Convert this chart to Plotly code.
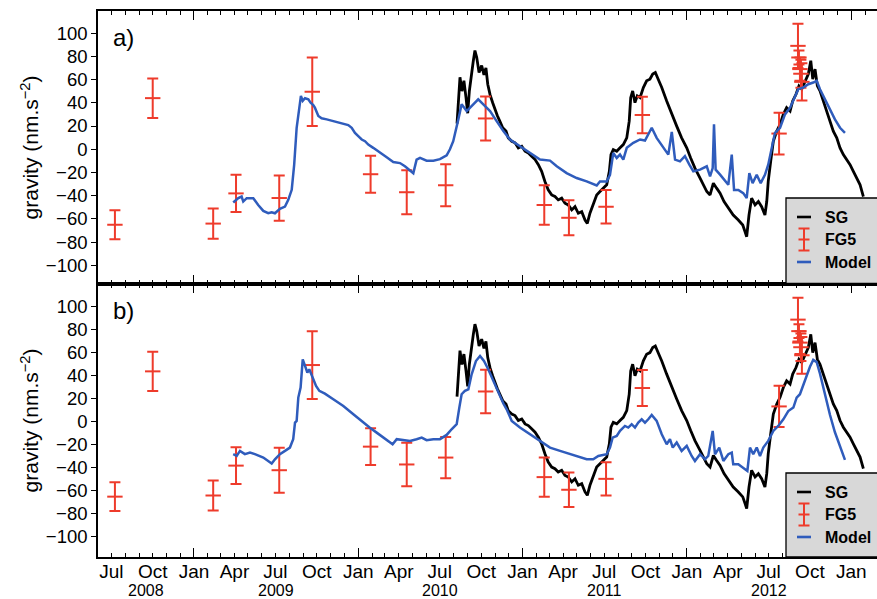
import plotly.graph_objects as go
from datetime import date

# ---------------- data (time in decimal years, gravity in nm/s^2) ----------------
fg5_t = [2008.519, 2008.749, 2009.117, 2009.256, 2009.519, 2009.720, 2010.075, 2010.295,
         2010.532, 2010.775, 2011.132, 2011.282, 2011.508, 2011.729, 2012.561,
         2012.676, 2012.682, 2012.688, 2012.694, 2012.700]
fg5_g = [-65, 44, -64, -38, -42, 49.5, -21.5, -37, -31, 26.5, -48, -59, -49.5, 29.5, 13.5,
         89, 79, 69, 65, 58]
fg5_err = [12.5, 17, 13, 16, 19.5, 29.5, 16, 19, 18, 19, 17, 15, 14.5, 15.7, 18,
           19, 6, 10, 12, 16]

sg_t = [2010.601, 2010.610, 2010.619, 2010.631, 2010.643, 2010.656, 2010.666, 2010.676,
        2010.686, 2010.700, 2010.710, 2010.721, 2010.735, 2010.751, 2010.765, 2010.777,
        2010.788, 2010.802, 2010.818, 2010.832, 2010.846, 2010.862, 2010.879, 2010.899,
        2010.913, 2010.934, 2010.954, 2010.974, 2010.995, 2011.015, 2011.035, 2011.055,
        2011.076, 2011.096, 2011.116, 2011.136, 2011.156, 2011.177, 2011.197, 2011.217,
        2011.238, 2011.258, 2011.278, 2011.299, 2011.319, 2011.339, 2011.360, 2011.380,
        2011.394, 2011.410, 2011.430, 2011.451, 2011.471, 2011.491, 2011.512, 2011.528,
        2011.538, 2011.552, 2011.573, 2011.593, 2011.613, 2011.634, 2011.649, 2011.658,
        2011.670, 2011.684, 2011.698, 2011.715, 2011.735, 2011.755, 2011.775, 2011.792,
        2011.808, 2011.826, 2011.847, 2011.877, 2011.908, 2011.938, 2011.968, 2011.999,
        2012.023, 2012.049, 2012.080, 2012.100, 2012.121, 2012.141, 2012.161, 2012.181,
        2012.202, 2012.226, 2012.252, 2012.282, 2012.313, 2012.340, 2012.354, 2012.364,
        2012.378, 2012.394, 2012.415, 2012.435, 2012.455, 2012.475, 2012.486, 2012.495,
        2012.510, 2012.526, 2012.547, 2012.567, 2012.587, 2012.607, 2012.628, 2012.644,
        2012.664, 2012.682, 2012.699, 2012.719, 2012.739, 2012.754, 2012.766, 2012.780,
        2012.794, 2012.810, 2012.830, 2012.851, 2012.871, 2012.891, 2012.912, 2012.932,
        2012.952, 2012.973, 2012.993, 2013.013, 2013.034, 2013.054, 2013.074]
sg_g = [22, 45, 62, 50, 59, 44, 31, 50,
        62, 76, 85, 79, 66, 72, 64, 70,
        56, 47, 40, 34, 29, 24, 18.5, 15.6,
        9.8, 6.9, 5.5, 1.2, 2.6, -1.7, -3.2, -6.0,
        -8.9, -13.3, -19, -27.7, -34.9, -39.3, -40.7, -43.6,
        -42.1, -46.5, -47.9, -52.2, -49.4, -55.1, -53.7, -60.9,
        -63.8, -55.1, -47.9, -39.3, -36.4, -33.5, -30.6, -19,
        -4.6, -0.3, -1.7, 1.2, 4.0, 9.8, 24.2, 44.4,
        50.2, 40.1, 45.9, 44.4, 53.1, 58.9, 60.3, 64.7,
        66.1, 60, 53.1, 41.6, 30.0, 19.9, 9.8, 1.2,
        -7.5, -16.2, -24.8, -30.6, -36.4, -39.3, -29.2, -33.5,
        -37.8, -45.0, -50.8, -56.6, -60.9, -65.2, -71, -75.3,
        -56.6, -42.1, -47.9, -45.0, -49.4, -56.6, -45, -27.7,
        -10.4, 6.9, 15.6, 21.4, 30, 35.8, 32.9, 41.6,
        47.3, 54.5, 51.7, 58.9, 64.7, 76.2, 60.3, 69.0,
        54.5, 50.2, 41.6, 32.9, 24.2, 15.6, 9.8, 1.2,
        -4.6, -8.9, -13.3, -19.0, -24.8, -30.6, -40.7]

model_a_t = [2009.239, 2009.270, 2009.290, 2009.300, 2009.321, 2009.361, 2009.391, 2009.422,
             2009.452, 2009.473, 2009.493, 2009.523, 2009.554, 2009.574, 2009.595, 2009.610,
             2009.625, 2009.641, 2009.651, 2009.662, 2009.676, 2009.696, 2009.710, 2009.726,
             2009.736, 2009.757, 2009.777, 2009.808, 2009.848, 2009.889, 2009.939, 2009.960,
             2009.980, 2010.000, 2010.021, 2010.041, 2010.061, 2010.091, 2010.132, 2010.173,
             2010.213, 2010.254, 2010.284, 2010.315, 2010.335, 2010.355, 2010.376, 2010.416,
             2010.457, 2010.497, 2010.538, 2010.558, 2010.578, 2010.609, 2010.629, 2010.660,
             2010.690, 2010.730, 2010.761, 2010.802, 2010.842, 2010.883, 2010.923, 2010.984,
             2011.045, 2011.106, 2011.167, 2011.208, 2011.268, 2011.329, 2011.390, 2011.451,
             2011.471, 2011.512, 2011.532, 2011.552, 2011.573, 2011.593, 2011.613, 2011.634,
             2011.674, 2011.715, 2011.745, 2011.786, 2011.816, 2011.856, 2011.887, 2011.908,
             2011.928, 2011.958, 2011.988, 2012.015, 2012.039, 2012.080, 2012.121, 2012.141,
             2012.157, 2012.165, 2012.175, 2012.202, 2012.232, 2012.252, 2012.273, 2012.287,
             2012.313, 2012.343, 2012.364, 2012.380, 2012.400, 2012.425, 2012.449, 2012.475,
             2012.495, 2012.516, 2012.536, 2012.567, 2012.597, 2012.628, 2012.658, 2012.678,
             2012.708, 2012.739, 2012.769, 2012.790, 2012.810, 2012.841, 2012.871, 2012.901,
             2012.932, 2012.962]
model_a_g = [-45.9, -42.1, -40.7, -45.0, -42.1, -42.1, -48.0, -53.1,
             -55.1, -54.2, -55.1, -51.3, -49.4, -43.6, -34.9, -13.2,
             18.5, 35.8, 45.9, 41.6, 43.9, 43.0, 40.1, 38.1,
             35.8, 28.6, 26.6, 25.7, 24.2, 22.8, 20.8, 18.5,
             14.1, 11.3, 8.4, 6.9, 4.0, 1.2, -3.2, -6.9,
             -11.0, -11.9, -14.7, -18.5, -20.6, -9.0, -7.5, -9.8,
             -9.8, -8.5, -5.2, 0, 6.9, 25.7, 38.7, 32.9,
             37.2, 43.0, 38.7, 32.9, 24.2, 15.6, 8.4, 2.6,
             -3.2, -8.9, -9.8, -14.7, -20.5, -24.8, -27.7, -31.2,
             -27.7, -27.7, -22.0, -3.2, -7.5, -4.6, -8.9, 1.2,
             5.5, 8.4, 7.5, 18.5, 9.8, 1.2, -4.6, 15,
             -8.9, -10.4, -6.0, -13.2, -19.0, -17.6, -14.7, -23.3,
             -16.2, 21.4, -17.6, -21.9, -27.7, -30.6, -4.6, -35.0,
             -35.0, -37.8, -42.1, -20.5, -29.2, -22.0, -29.2, -22.0,
             -13.3, 1.2, 14.1, 18.5, 30.0, 35.8, 45.9, 51.7,
             53.1, 56.0, 57.4, 58.9, 51.7, 43.0, 34.3, 25.7,
             18.5, 14.1]

model_b_t = [2009.239, 2009.260, 2009.280, 2009.310, 2009.341, 2009.371, 2009.422, 2009.452,
             2009.473, 2009.493, 2009.523, 2009.554, 2009.584, 2009.604, 2009.615, 2009.625,
             2009.635, 2009.649, 2009.662, 2009.676, 2009.690, 2009.702, 2009.722, 2009.743,
             2009.763, 2009.797, 2009.848, 2009.909, 2009.970, 2010.030, 2010.071, 2010.112,
             2010.152, 2010.183, 2010.209, 2010.234, 2010.274, 2010.315, 2010.355, 2010.386,
             2010.416, 2010.457, 2010.497, 2010.538, 2010.568, 2010.599, 2010.615, 2010.629,
             2010.649, 2010.670, 2010.690, 2010.716, 2010.741, 2010.765, 2010.791, 2010.822,
             2010.852, 2010.883, 2010.903, 2010.934, 2010.984, 2011.045, 2011.106, 2011.167,
             2011.228, 2011.289, 2011.349, 2011.390, 2011.430, 2011.461, 2011.512, 2011.532,
             2011.548, 2011.573, 2011.593, 2011.623, 2011.643, 2011.664, 2011.684, 2011.704,
             2011.725, 2011.745, 2011.765, 2011.786, 2011.816, 2011.847, 2011.877, 2011.897,
             2011.914, 2011.938, 2011.968, 2011.999, 2012.029, 2012.049, 2012.080, 2012.110,
             2012.130, 2012.157, 2012.171, 2012.197, 2012.222, 2012.252, 2012.273, 2012.282,
             2012.313, 2012.343, 2012.368, 2012.384, 2012.404, 2012.425, 2012.445, 2012.465,
             2012.495, 2012.526, 2012.556, 2012.587, 2012.617, 2012.648, 2012.668, 2012.688,
             2012.708, 2012.729, 2012.749, 2012.769, 2012.790, 2012.810, 2012.830, 2012.851,
             2012.871, 2012.901, 2012.932, 2012.962]
model_b_g = [-28.1, -29.5, -25.2, -28.0, -26.7, -28.0, -31.0, -33.9,
             -36.2, -32.5, -28.0, -25.2, -22.3, -15.0, -0.6, 0.9,
             21.2, 29.9, 54.5, 48.7, 43.0, 45.8, 38.6, 31.3,
             27.0, 24.6, 19.7, 13.9, 6.7, -0.6, -5.0, -9.3,
             -13.6, -16.5, -19.4, -15.0, -15.9, -16.5, -15.0, -13.6,
             -15.9, -15.0, -15.0, -11.3, -6.4, -2.0, 12.5, 24.1,
             27.0, 28.4, 41.4, 53.0, 57.4, 53.0, 45.8, 35.7,
             27.0, 16, 11.0, 0.9, -4.9, -10.7, -16.5, -22.3,
             -25.2, -28.1, -31.0, -32.5, -32.5, -29.6, -28.1, -22.3,
             -13.6, -12.2, -7.8, -3.5, -4.9, -2.0, -4.9, -0.6,
             2.3, -0.6, 2.3, 6.1, 0.9, -10.7, -19.4, -15.0,
             -22.3, -17.9, -25.2, -20.9, -29.6, -34.0, -28.1, -32.5,
             -29.6, -7.8, -28.1, -22.3, -33.9, -28.1, -26.7, -36.8,
             -36.8, -39.7, -42.6, -22.3, -28.1, -22.3, -29.6, -22.3,
             -16.5, -7.8, -3.5, 2.3, 9.5, 12.5, 21.2, 24.1,
             32, 40, 48, 54, 52, 42, 30, 16,
             6, -9, -22, -33]

gravity_ticks = [-100, -80, -60, -40, -20, 0, 20, 40, 60, 80, 100]
month_labels = ["Jul", "Oct", "Jan", "Apr", "Jul", "Oct", "Jan", "Apr", "Jul", "Oct",
                "Jan", "Apr", "Jul", "Oct", "Jan", "Apr", "Jul", "Oct", "Jan"]
year_labels = ["2008", "2009", "2010", "2011", "2012"]
legend_names = ["SG", "FG5", "Model"]

# ---------------- styling / layout ----------------
W, H = 877, 599
ML, MR, MT, MB = 98, 0, 11, 42
X_MIN, X_MAX = 2008.416, 2013.157
RED = "#ee3b2b"
BLUE = "#2f5cbc"
BLACK = "#000000"
FONT = "Liberation Sans, Arial, Helvetica, sans-serif"


def decyear(y, m):
    d0 = date(y, 1, 1)
    d1 = date(y + 1, 1, 1)
    return y + (date(y, m, 1) - d0).days / (d1 - d0).days


months = []
y, m = 2008, 6
while (y, m) <= (2013, 2):
    months.append((y, m))
    m += 1
    if m > 12:
        m, y = 1, y + 1
quarter_pos = [decyear(a, b) for a, b in months
               if b in (1, 4, 7, 10) and (2008, 7) <= (a, b) <= (2013, 1)]
month_pos = [decyear(a, b) for a, b in months]
jan_pos = [decyear(a, 1) for a in range(2009, 2014)]

PW = W - ML - MR
PH = H - MT - MB


def px(x):
    return (x - ML) / PW


def py(y):
    return (H - MB - y) / PH


fig = go.Figure()

for xa, ya, mt, mg in [("x2", "y2", model_a_t, model_a_g), ("x", "y", model_b_t, model_b_g)]:
    fig.add_trace(go.Scatter(x=sg_t, y=sg_g, mode="lines", xaxis=xa, yaxis=ya,
                             line=dict(color=BLACK, width=2.8), showlegend=False, name="SG"))
    fig.add_trace(go.Scatter(x=fg5_t, y=fg5_g, mode="markers", xaxis=xa, yaxis=ya,
                             marker=dict(symbol="line-ew", size=11, color=RED,
                                         line=dict(color=RED, width=2)),
                             error_y=dict(type="data", array=fg5_err, visible=True,
                                          color=RED, thickness=2, width=5.5),
                             showlegend=False, name="FG5"))
    fig.add_trace(go.Scatter(x=mt, y=mg, mode="lines", xaxis=xa, yaxis=ya,
                             line=dict(color=BLUE, width=2.5), showlegend=False, name="Model"))

# empty traces to instantiate the overlay axes for long January ticks
fig.add_trace(go.Scatter(x=[], y=[], xaxis="x3", yaxis="y", showlegend=False))
fig.add_trace(go.Scatter(x=[], y=[], xaxis="x4", yaxis="y2", showlegend=False))

split = 0.5
xcommon = dict(range=[X_MIN, X_MAX], showgrid=False, zeroline=False,
               tickmode="array", tickvals=quarter_pos, ticktext=month_labels,
               ticks="inside", ticklen=4, tickwidth=1.2, tickcolor=BLACK,
               showline=True, linecolor=BLACK, linewidth=1.6, mirror="ticks",
               minor=dict(tickmode="array", tickvals=month_pos, ticks="inside",
                          ticklen=4, tickwidth=1.2, tickcolor=BLACK),
               ticklabelstandoff=-4,
               tickfont=dict(family=FONT, size=19, color=BLACK), fixedrange=True)
xlong = dict(range=[X_MIN, X_MAX], showgrid=False, zeroline=False, tickmode="array",
             tickvals=jan_pos, ticks="inside", ticklen=9, tickwidth=1.4, tickcolor=BLACK,
             showline=False, mirror="ticks", showticklabels=False, fixedrange=True)
ycommon = dict(showgrid=False, zeroline=False, tickmode="array", tickvals=gravity_ticks,
               ticks="outside", ticklen=5, tickwidth=1.2, tickcolor=BLACK,
               showline=True, linecolor=BLACK, linewidth=1.6, mirror=False,
               tickfont=dict(family=FONT, size=18.5, color=BLACK),
               title=dict(text="gravity (nm.s<sup>\u22122</sup>)",
                          font=dict(family=FONT, size=21, color=BLACK), standoff=1),
               fixedrange=True)

fig.update_layout(
    width=W, height=H,
    margin=dict(l=ML, r=MR, t=MT, b=MB, pad=0),
    paper_bgcolor="white", plot_bgcolor="white",
    showlegend=False,
    xaxis=dict(domain=[0, 1], anchor="y", **xcommon),
    xaxis2=dict(domain=[0, 1], anchor="y2", matches="x", showticklabels=False,
                **{k: v for k, v in xcommon.items() if k not in ("range",)}),
    xaxis3=dict(overlaying="x", anchor="y", **xlong),
    xaxis4=dict(overlaying="x2", anchor="y2", **xlong),
    yaxis=dict(domain=[0, split], anchor="x", range=[-117.5, 120], **ycommon),
    yaxis2=dict(domain=[split, 1], anchor="x2", range=[-116, 119], **ycommon),
)

annotations = []
# panel labels
annotations.append(dict(text="a)", x=px(111), y=py(37), xref="paper", yref="paper",
                        xanchor="left", yanchor="middle", showarrow=False,
                        font=dict(family=FONT, size=24, color=BLACK)))
annotations.append(dict(text="b)", x=px(111), y=py(310), xref="paper", yref="paper",
                        xanchor="left", yanchor="middle", showarrow=False,
                        font=dict(family=FONT, size=24, color=BLACK)))
# year labels centered on the visible part of each year
year_centres = [(X_MIN + 2009) / 2] + [yy + 0.5 for yy in range(2009, 2013)]
for lab, xc in zip(year_labels, year_centres):
    annotations.append(dict(text=lab, x=xc, y=0, xref="x", yref="paper",
                            xanchor="center", yanchor="middle", yshift=-33, borderpad=0,
                            showarrow=False, font=dict(family=FONT, size=16, color=BLACK)))

shapes = []
for box_top, box_bot in [(198, 283.5), (473, 557)]:
    shapes.append(dict(type="rect", xref="paper", yref="paper",
                       x0=px(786), x1=px(W + 5), y0=py(box_bot), y1=py(box_top),
                       fillcolor="#d8d8d8", line=dict(color=BLACK, width=1.3), layer="above"))
    ys = [box_top + 19, box_top + 41.5, box_top + 64]
    # SG sample
    shapes.append(dict(type="line", xref="paper", yref="paper", x0=px(797), x1=px(811),
                       y0=py(ys[0]), y1=py(ys[0]), line=dict(color=BLACK, width=2.6), layer="above"))
    # FG5 sample (error bar glyph)
    cx = 804
    shapes.append(dict(type="line", xref="paper", yref="paper", x0=px(cx), x1=px(cx),
                       y0=py(ys[1] - 11), y1=py(ys[1] + 11), line=dict(color=RED, width=2), layer="above"))
    for yy in (ys[1] - 11, ys[1], ys[1] + 11):
        shapes.append(dict(type="line", xref="paper", yref="paper", x0=px(cx - 5.5), x1=px(cx + 5.5),
                           y0=py(yy), y1=py(yy), line=dict(color=RED, width=2), layer="above"))
    # Model sample
    shapes.append(dict(type="line", xref="paper", yref="paper", x0=px(797), x1=px(811),
                       y0=py(ys[2]), y1=py(ys[2]), line=dict(color=BLUE, width=2.6), layer="above"))
    for name, yy in zip(legend_names, ys):
        annotations.append(dict(text="<b>%s</b>" % name, x=px(823), y=py(yy), xref="paper",
                                yref="paper", xanchor="left", yanchor="middle", showarrow=False,
                                font=dict(family=FONT, size=16, color=BLACK)))

fig.update_layout(annotations=annotations, shapes=shapes)

fig.write_html("out.html", config={"displayModeBar": False},
               post_script="document.body.style.margin='0px';document.body.style.overflow='hidden';")
